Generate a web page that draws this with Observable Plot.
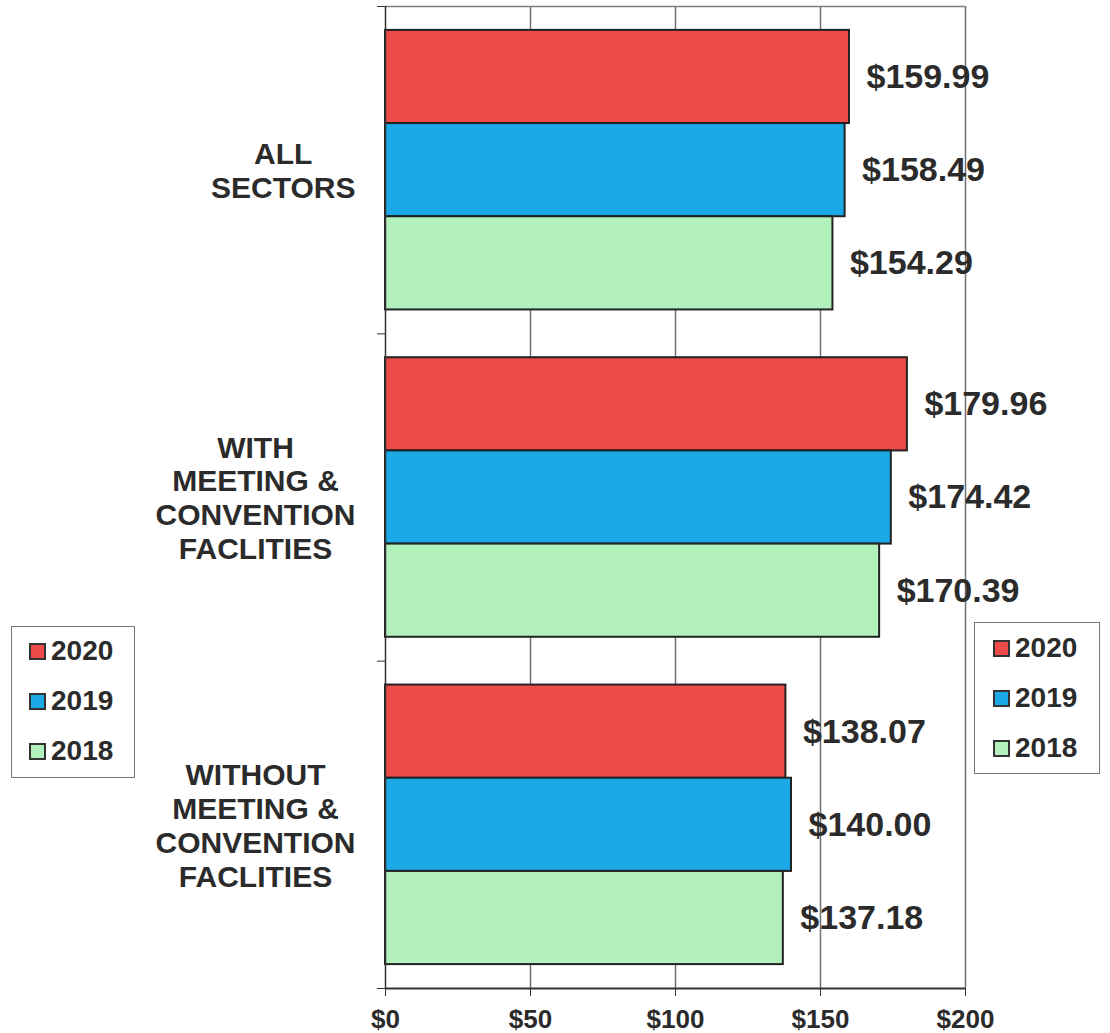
<!DOCTYPE html>
<html>
<head>
<meta charset="utf-8">
<script src="https://cdn.jsdelivr.net/npm/d3@7"></script>
<script src="https://cdn.jsdelivr.net/npm/@observablehq/plot@0.6"></script>
<style>
  html, body { margin: 0; padding: 0; background: #fff; }
  #wrap { position: relative; width: 1110px; height: 1033px; font-family: "Liberation Sans", Arial, sans-serif; }
  .legend { position: absolute; border: 1.5px solid #777; background: #fff; box-sizing: border-box; }
  .item { position: absolute; display: flex; align-items: center; font-weight: bold; font-size: 28px; color: #2b2b2b; }
  .sw { width: 17px; height: 17px; border: 2px solid #333; box-sizing: border-box; margin-right: 5px; }
</style>
</head>
<body>
<div id="wrap"></div>
<script>
const categories = ["ALL\nSECTORS", "WITH\nMEETING &\nCONVENTION\nFACLITIES", "WITHOUT\nMEETING &\nCONVENTION\nFACLITIES"];
const years = ["2020", "2019", "2018"];
const values2020 = [159.99, 179.96, 138.07];
const values2019 = [158.49, 174.42, 140.00];
const values2018 = [154.29, 170.39, 137.18];
const xTicks = [0, 50, 100, 150, 200];
const yearColors = ["#ef4a4a", "#1aa8e6", "#b2f0bc"];

const seriesValues = [values2020, values2019, values2018];
const pad = 0.073;
const barW = (1 - 2 * pad) / years.length;

const rows = [];
categories.forEach((cat, i) => {
  years.forEach((yr, j) => {
    const y1 = i + pad + j * barW;
    rows.push({cat, year: yr, value: seriesValues[j][i], y1, y2: y1 + barW, ym: y1 + barW / 2});
  });
});

const catRows = categories.map((c, i) => ({label: c, y: i + 0.5}));

// measure category label widths to center lines in a block right-aligned near the axis
const ctx = document.createElement("canvas").getContext("2d");
ctx.font = "bold 30px 'Liberation Sans', Arial, sans-serif";
const gap = 30;

const ink = "#2b2b2b";
const W = 1110, H = 1033;

const catMarks = catRows.map(d => {
  const maxW = d3.max(d.label.split("\n"), s => ctx.measureText(s).width);
  return Plot.text([d], {
    y: "y", text: "label", frameAnchor: "left", textAnchor: "middle",
    dx: -(gap + maxW / 2), fontSize: 30, fontWeight: "bold", fill: ink, lineHeight: 1.13
  });
});

const chart = Plot.plot({
  width: W,
  height: H,
  marginLeft: 385,
  marginRight: 145,
  marginTop: 6,
  marginBottom: 45,
  style: {fontFamily: "'Liberation Sans', Arial, sans-serif", background: "#fff"},
  x: {domain: [0, 200]},
  y: {domain: [0, 3], reverse: true},
  color: {domain: years, range: yearColors},
  marks: [
    Plot.ruleX(xTicks.slice(1), {stroke: "#707070", strokeWidth: 1.5}),
    Plot.ruleY([0], {stroke: "#808080", strokeWidth: 1.5}),
    Plot.rectX(rows, {x1: 0, x2: "value", y1: "y1", y2: "y2", fill: "year", stroke: "#222", strokeWidth: 2}),
    Plot.text(rows, {x: "value", y: "ym", text: d => "$" + d3.format(".2f")(d.value), textAnchor: "start", dx: 17,
      fontSize: 34, fontWeight: "bold", fill: ink}),
    Plot.ruleX([0], {stroke: "#333", strokeWidth: 1.5}),
    Plot.ruleY([3], {stroke: "#333", strokeWidth: 2}),
    Plot.axisY({ticks: [0, 1, 2, 3], tickFormat: () => "", tickSize: 8, stroke: "#333", label: null}),
    Plot.axisX({ticks: xTicks, tickFormat: d => "$" + d, tickSize: 8, tickPadding: 13, fontSize: 26,
      fontWeight: "bold", fill: ink, stroke: "#333", label: null}),
    ...catMarks
  ]
});

const wrap = document.getElementById("wrap");
wrap.appendChild(chart);

function addLegend(left, top, w, h, offsets) {
  const box = document.createElement("div");
  box.className = "legend";
  Object.assign(box.style, {left: left + "px", top: top + "px", width: w + "px", height: h + "px"});
  years.forEach((yr, j) => {
    const it = document.createElement("div");
    it.className = "item";
    Object.assign(it.style, {left: offsets[0] + "px", top: (offsets[1] + j * 50) + "px", height: "30px"});
    const sw = document.createElement("span");
    sw.className = "sw";
    sw.style.background = yearColors[j];
    const tx = document.createElement("span");
    tx.textContent = yr;
    it.appendChild(sw);
    it.appendChild(tx);
    box.appendChild(it);
  });
  wrap.appendChild(box);
}
addLegend(11, 626, 124, 152, [17, 9]);
addLegend(974, 622, 126, 152, [18, 10]);
</script>
</body>
</html>
